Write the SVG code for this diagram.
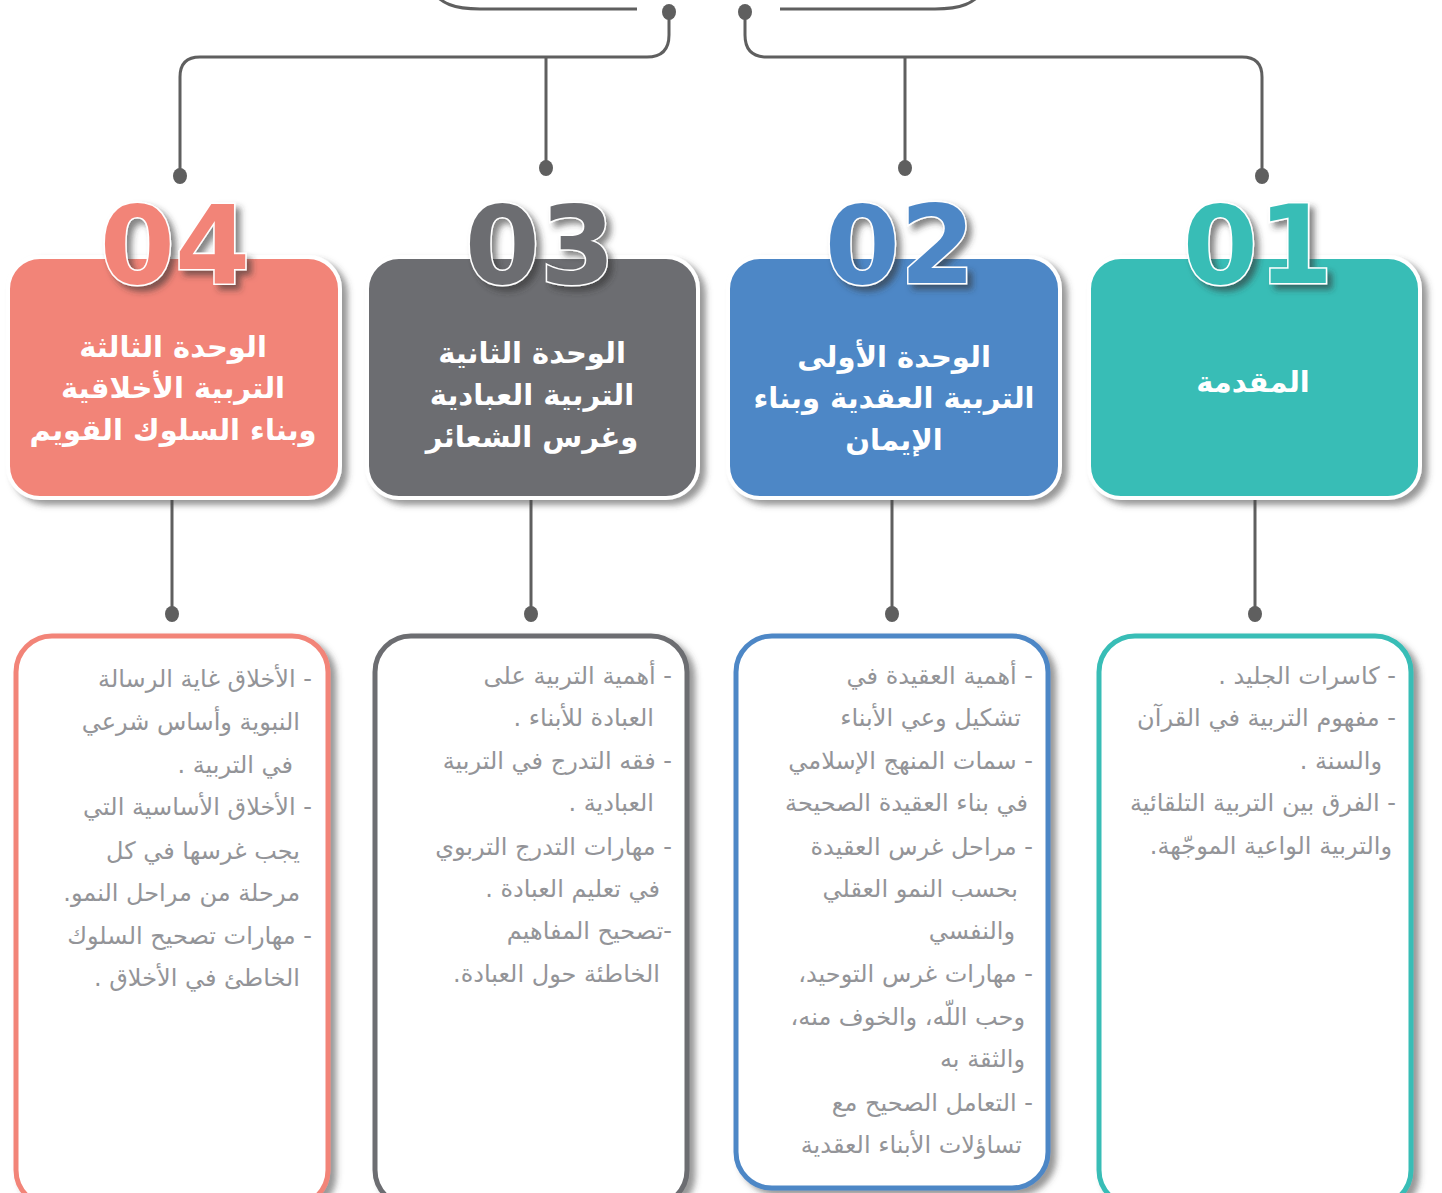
<svg xmlns="http://www.w3.org/2000/svg" width="1442" height="1193" viewBox="0 0 1442 1193">
<style>
.conn{fill:none;stroke:#5f5f5f;stroke-width:3}
.dot{fill:#5f5f5f}
.head{stroke:#ffffff;stroke-width:4}
.num{font-family:"DejaVu Sans",sans-serif;font-weight:bold;font-size:108px;stroke:#ffffff;stroke-width:3;paint-order:stroke;text-anchor:middle}
.ttl{font-family:"DejaVu Sans",sans-serif;font-weight:bold;font-size:29px;fill:#ffffff;text-anchor:middle}
.card{fill:#ffffff;stroke-width:5}
.itm{font-family:"DejaVu Sans",sans-serif;font-size:24px;fill:#939498;text-anchor:start}
</style>
<defs>
<filter id="sh" x="-10%" y="-10%" width="125%" height="125%">
<feDropShadow dx="6" dy="5" stdDeviation="3" flood-color="#444" flood-opacity="0.55"/>
</filter>
<filter id="nsh" x="-10%" y="-10%" width="130%" height="130%">
<feDropShadow dx="5" dy="5" stdDeviation="3" flood-color="#333" flood-opacity="0.6"/>
</filter>
</defs>
<g id="connectors">
<path class="conn" d="M 430 -12 C 440 4 455 9 480 9 L 637 9"/>
<path class="conn" d="M 780 9 L 935 9 C 960 9 975 4 985 -12"/>
<path class="conn" d="M 669 12 L 669 35 Q 669 57 647 57 L 200 57 Q 180 57 180 77 L 180 176"/>
<path class="conn" d="M 745 12 L 745 35 Q 745 57 767 57 L 1242 57 Q 1262 57 1262 77 L 1262 176"/>
<path class="conn" d="M 546 57 L 546 168"/>
<path class="conn" d="M 905 57 L 905 168"/>
<ellipse class="dot" cx="669" cy="12" rx="7" ry="8"/>
<ellipse class="dot" cx="745" cy="12" rx="7" ry="8"/>
<ellipse class="dot" cx="180" cy="176" rx="7" ry="8"/>
<ellipse class="dot" cx="546" cy="168" rx="7" ry="8"/>
<ellipse class="dot" cx="905" cy="168" rx="7" ry="8"/>
<ellipse class="dot" cx="1262" cy="176" rx="7" ry="8"/>
<path class="conn" d="M 172 500 L 172 614"/>
<path class="conn" d="M 531 500 L 531 614"/>
<path class="conn" d="M 892 500 L 892 614"/>
<path class="conn" d="M 1255 500 L 1255 614"/>
<ellipse class="dot" cx="172" cy="614" rx="7" ry="8"/>
<ellipse class="dot" cx="531" cy="614" rx="7" ry="8"/>
<ellipse class="dot" cx="892" cy="614" rx="7" ry="8"/>
<ellipse class="dot" cx="1255" cy="614" rx="7" ry="8"/>
</g>
<g id="unit4">
<rect class="head" x="8" y="257" width="332" height="241" rx="32" fill="#f28478" filter="url(#sh)"/>
<text class="num" x="175" y="283" fill="#f28478" filter="url(#nsh)">04</text>
<text class="ttl" x="173" y="357" direction="rtl" font-size="30">الوحدة الثالثة</text>
<text class="ttl" x="173" y="398" direction="rtl" font-size="30">التربية الأخلاقية</text>
<text class="ttl" x="173" y="440" direction="rtl" font-size="30">وبناء السلوك القويم</text>
</g>
<g id="unit3">
<rect class="head" x="367" y="257" width="331" height="241" rx="32" fill="#6c6d71" filter="url(#sh)"/>
<text class="num" x="540" y="283" fill="#6c6d71" filter="url(#nsh)">03</text>
<text class="ttl" x="532" y="363" direction="rtl">الوحدة الثانية</text>
<text class="ttl" x="532" y="405" direction="rtl">التربية العبادية</text>
<text class="ttl" x="532" y="447" direction="rtl">وغرس الشعائر</text>
</g>
<g id="unit2">
<rect class="head" x="728" y="257" width="332" height="241" rx="32" fill="#4e87c6" filter="url(#sh)"/>
<text class="num" x="900" y="283" fill="#4e87c6" filter="url(#nsh)">02</text>
<text class="ttl" x="894" y="367" direction="rtl">الوحدة الأولى</text>
<text class="ttl" x="894" y="408" direction="rtl">التربية العقدية وبناء</text>
<text class="ttl" x="894" y="450" direction="rtl">الإيمان</text>
</g>
<g id="unit1">
<rect class="head" x="1089" y="257" width="331" height="241" rx="32" fill="#37bdb6" filter="url(#sh)"/>
<text class="num" x="1258" y="283" fill="#37bdb6" filter="url(#nsh)">01</text>
<text class="ttl" x="1253" y="392" direction="rtl">المقدمة</text>
</g>
<g id="list4">
<rect class="card" x="16" y="636" width="312" height="570" rx="36" stroke="#f28478" filter="url(#sh)"/>
<text class="itm" direction="rtl" x="312" y="687">- الأخلاق غاية الرسالة</text>
<text class="itm" direction="rtl" x="300" y="730">النبوية وأساس شرعي</text>
<text class="itm" direction="rtl" x="293" y="773">في التربية .</text>
<text class="itm" direction="rtl" x="312" y="815">- الأخلاق الأساسية التي</text>
<text class="itm" direction="rtl" x="300" y="859">يجب غرسها في كل</text>
<text class="itm" direction="rtl" x="300" y="901">مرحلة من مراحل النمو.</text>
<text class="itm" direction="rtl" x="312" y="944">- مهارات تصحيح السلوك</text>
<text class="itm" direction="rtl" x="300" y="986">الخاطئ في الأخلاق .</text>
</g>
<g id="list3">
<rect class="card" x="375" y="636" width="312" height="570" rx="36" stroke="#6c6d71" filter="url(#sh)"/>
<text class="itm" direction="rtl" x="672" y="684">- أهمية التربية على</text>
<text class="itm" direction="rtl" x="654" y="726">العبادة للأبناء .</text>
<text class="itm" direction="rtl" x="672" y="769">- فقه التدرج في التربية</text>
<text class="itm" direction="rtl" x="654" y="811">العبادية .</text>
<text class="itm" direction="rtl" x="672" y="855">- مهارات التدرج التربوي</text>
<text class="itm" direction="rtl" x="660" y="897">في تعليم العبادة .</text>
<text class="itm" direction="rtl" x="672" y="939">-تصحيح المفاهيم</text>
<text class="itm" direction="rtl" x="660" y="982">الخاطئة حول العبادة.</text>
</g>
<g id="list2">
<rect class="card" x="736" y="636" width="312" height="552" rx="36" stroke="#4e87c6" filter="url(#sh)"/>
<text class="itm" direction="rtl" x="1033" y="684">- أهمية العقيدة في</text>
<text class="itm" direction="rtl" x="1021" y="726">تشكيل وعي الأبناء</text>
<text class="itm" direction="rtl" x="1033" y="769">- سمات المنهج الإسلامي</text>
<text class="itm" direction="rtl" x="1028" y="811">في بناء العقيدة الصحيحة</text>
<text class="itm" direction="rtl" x="1033" y="855">- مراحل غرس العقيدة</text>
<text class="itm" direction="rtl" x="1018" y="897">بحسب النمو العقلي</text>
<text class="itm" direction="rtl" x="1015" y="939">والنفسي</text>
<text class="itm" direction="rtl" x="1033" y="982">- مهارات غرس التوحيد،</text>
<text class="itm" direction="rtl" x="1025" y="1025">وحب اللّه، والخوف منه،</text>
<text class="itm" direction="rtl" x="1025" y="1067">والثقة به</text>
<text class="itm" direction="rtl" x="1033" y="1111">- التعامل الصحيح مع</text>
<text class="itm" direction="rtl" x="1022" y="1153">تساؤلات الأبناء العقدية</text>
</g>
<g id="list1">
<rect class="card" x="1099" y="636" width="312" height="570" rx="36" stroke="#37bdb6" filter="url(#sh)"/>
<text class="itm" direction="rtl" x="1396" y="684">- كاسرات الجليد .</text>
<text class="itm" direction="rtl" x="1396" y="726">- مفهوم التربية في القرآن</text>
<text class="itm" direction="rtl" x="1382" y="769">والسنة .</text>
<text class="itm" direction="rtl" x="1396" y="811">- الفرق بين التربية التلقائية</text>
<text class="itm" direction="rtl" x="1392" y="854">والتربية الواعية الموجّهة.</text>
</g>
</svg>
